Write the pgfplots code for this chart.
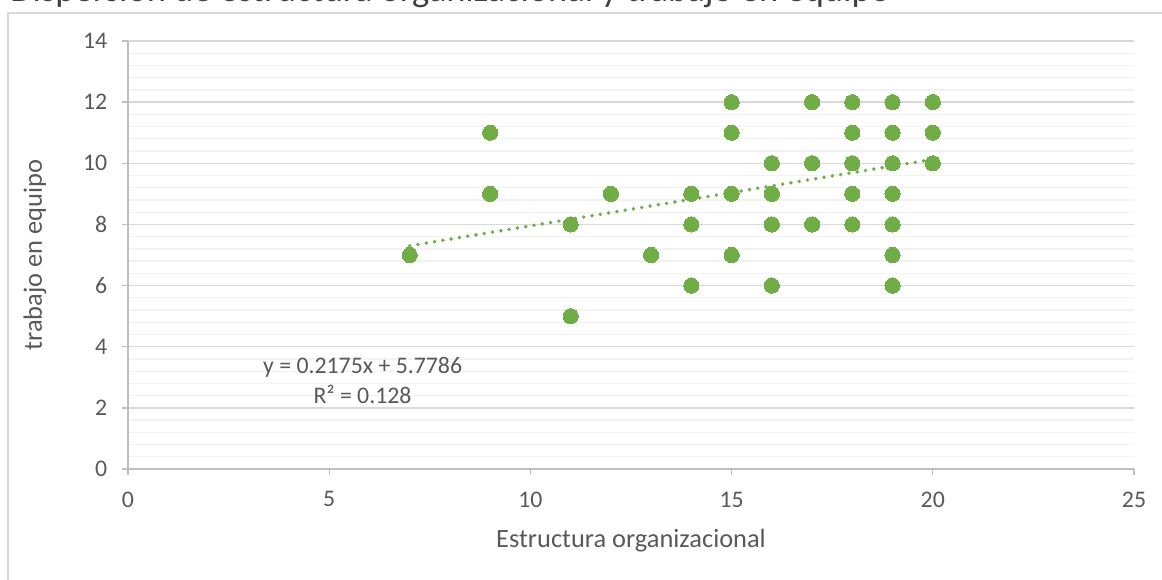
\documentclass[border=0pt]{standalone}
\usepackage{fontspec}
\setmainfont{Carlito}
\usepackage{pgfplots}
\usepackage{pgfplotstable}
\pgfplotsset{compat=1.18}

\definecolor{ptgreen}{HTML}{70AD47}
\definecolor{txtgray}{HTML}{595959}
\definecolor{titlegray}{HTML}{404040}
\definecolor{majgrid}{HTML}{D9D9D9}
\definecolor{mingrid}{HTML}{F2F2F2}
\definecolor{axgray}{HTML}{BFBFBF}

% estructura organizacional (x) vs trabajo en equipo (y)
\pgfplotstableread{
x y
7 7
9 11
9 9
11 8
11 5
12 9
13 7
14 9
14 8
14 6
15 12
15 11
15 9
15 7
16 10
16 9
16 8
16 6
17 12
17 10
17 8
18 12
18 11
18 10
18 9
18 8
19 12
19 11
19 10
19 9
19 8
19 7
19 6
20 12
20 11
20 10
}\puntos

\begin{document}
\begin{tikzpicture}
\path[use as bounding box] (0,0) rectangle (871.5pt,434.25pt);
\clip (0,0) rectangle (871.5pt,434.25pt);
\draw[majgrid, line width=1pt] (6pt,-20pt) rectangle (900pt,424.5pt);
% titulo, recortado en el borde superior como en la captura
\node[anchor=base west, text=titlegray, inner sep=0pt,
      font=\fontsize{27.4}{32}\selectfont] at (7.5pt,433pt)
  {Dispersión de estructura organizacional y trabajo en equipo};

\begin{axis}[
    at={(96pt,82.5pt)}, anchor=south west,
    scale only axis,
    width=754.5pt, height=321pt,
    xmin=0, xmax=25, ymin=0, ymax=14,
    xtick={0,5,...,25},
    ytick={0,2,...,14},
    minor y tick num=4,
    ymajorgrids, yminorgrids,
    major grid style={majgrid, line width=1pt},
    minor grid style={mingrid, line width=1pt},
    axis x line=bottom, axis y line=left,
    axis line style={axgray, line width=1pt, -},
    tick align=outside,
    major tick length=4.5pt, minor tick length=0pt,
    tick style={axgray, line width=1pt},
    /pgf/number format/assume math mode=true,
    ticklabel style={font=\fontsize{17.85}{20}\selectfont, text=txtgray},
    xticklabel style={yshift=-9pt},
    yticklabel style={xshift=-7.5pt},
    label style={font=\fontsize{19.8}{24}\selectfont, text=txtgray},
    xlabel={Estructura organizacional},
    ylabel={trabajo en equipo},
    xlabel style={at={(axis description cs:0.5,-0.168)}, anchor=center},
    ylabel style={at={(axis description cs:-0.0925,0.5)}, anchor=center},
    clip=false,
]
\addplot[only marks, mark=*, mark size=5.7pt,
    mark options={fill=ptgreen, draw=ptgreen, line width=0pt}]
    table[x=x, y=y] {\puntos};
% linea de tendencia lineal
\addplot[ptgreen, line width=2.9pt, line cap=round,
    dash pattern=on 0pt off 6.3pt]
    coordinates {(7,7.3011) (20,10.1286)};
\node[align=center, text=txtgray, font=\fontsize{17.85}{22.5}\selectfont]
    at (axis cs:5.83,2.91) {y = 0.2175x + 5.7786\\R² = 0.128};
\end{axis}
\end{tikzpicture}
\end{document}
